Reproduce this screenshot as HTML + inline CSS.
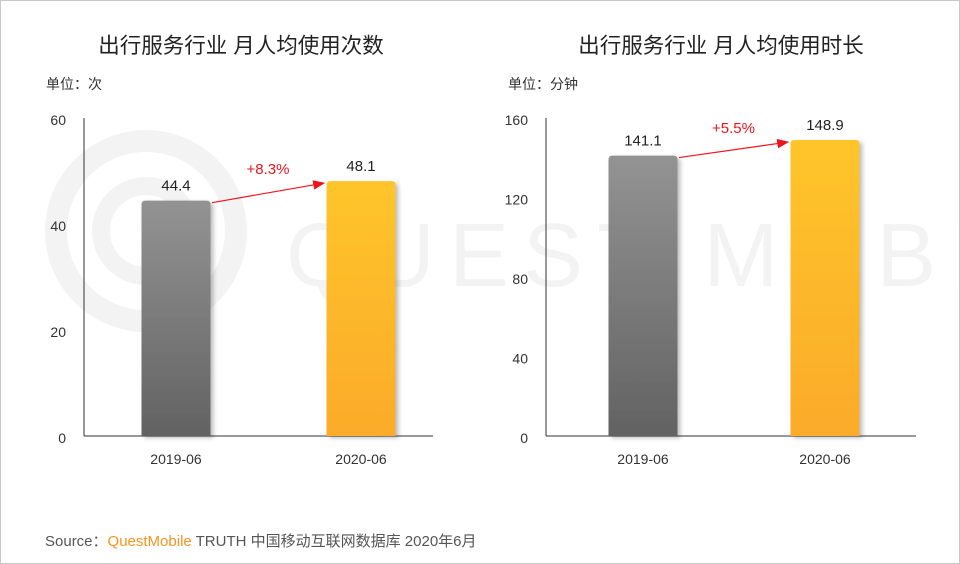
<!DOCTYPE html>
<html><head><meta charset="utf-8">
<style>
html,body{margin:0;padding:0;background:#fff;}
#wrap{position:relative;width:958px;height:562px;border:1px solid #c8c8c8;overflow:hidden;font-family:"Liberation Sans","Noto Sans CJK SC",sans-serif;}
svg text{font-family:"Liberation Sans","Noto Sans CJK SC",sans-serif;}
</style></head>
<body>
<div id="wrap">
<svg id="svg" width="958" height="562">
<defs>
<linearGradient id="gGray" x1="0" y1="0" x2="0" y2="1"><stop offset="0" stop-color="#939393"/><stop offset="1" stop-color="#626262"/></linearGradient>
<linearGradient id="gGold" x1="0" y1="0" x2="0" y2="1"><stop offset="0" stop-color="#fec52b"/><stop offset="1" stop-color="#fbab2c"/></linearGradient>
<filter id="sh" x="-20%" y="-10%" width="140%" height="120%"><feDropShadow dx="3" dy="2" stdDeviation="2" flood-color="#000" flood-opacity="0.25"/></filter>
<marker id="arr" markerWidth="10" markerHeight="8" refX="9" refY="4" orient="auto"><path d="M0,0 L10,4 L0,8 z" fill="#f0141e"/></marker>
</defs>
<g opacity="0.045">
<circle cx="145" cy="230" r="90" fill="none" stroke="#000" stroke-width="22"/>
<circle cx="145" cy="230" r="45" fill="none" stroke="#000" stroke-width="18"/>
<text x="285" y="285" font-size="90" fill="#000" letter-spacing="14">QUEST MOBILE</text>
</g>
<g id="charts"></g>
<text x="44" y="545" font-size="15" fill="#555">Source：<tspan fill="#f7931e">QuestMobile</tspan> TRUTH 中国移动互联网数据库 2020年6月</text>
</svg>
</div>
<script>
const categories = ["2019-06","2020-06"];
const leftValues = [44.4, 48.1];
const rightValues = [141.1, 148.9];
const leftTicks = [0,20,40,60];
const rightTicks = [0,40,80,120,160];
const leftGrowth = "+8.3%";
const rightGrowth = "+5.5%";
const titles = ["出行服务行业 月人均使用次数","出行服务行业 月人均使用时长"];
const units = ["单位：次","单位：分钟"];

const NS="http://www.w3.org/2000/svg";
const root=document.getElementById('charts');
function mk(tag,attrs,parent,txt){const e=document.createElementNS(NS,tag);for(const k in attrs)e.setAttribute(k,attrs[k]);if(txt!==undefined)e.textContent=txt;parent.appendChild(e);return e;}

function drawChart(cfg){
  const g=mk('g',{},root);
  
  
  const y0=435,y1=117,max=cfg.ticks[cfg.ticks.length-1];
  const y=v=>y0-(v/max)*(y0-y1);
  const t=mk('text',{x:cfg.titleX,y:52,'font-size':21.5,fill:'#222','text-anchor':'middle'},g,cfg.title);
  
  
  const u=mk('text',{x:cfg.axisX-38,y:88,'font-size':14,fill:'#333'},g,cfg.unit);
  
  
  const ax=mk('line',{x1:cfg.axisX,y1:y1,x2:cfg.axisX,y2:y0,stroke:'#333','stroke-width':1},g);
  
  
  const bx=mk('line',{x1:cfg.axisX,y1:y0,x2:cfg.axisEnd,y2:y0,stroke:'#333','stroke-width':1},g);
  
  
  cfg.ticks.forEach(v=>{
    const tt=mk('text',{x:cfg.axisX-18,y:y(v)+7,'font-size':14,fill:'#333','text-anchor':'end'},g,String(v));
    
    
  });
  const fills=['url(#gGray)','url(#gGold)'];
  const tops=[];
  cfg.values.forEach((v,i)=>{
    const cx=cfg.centers[i],w=69,top=y(v),r=4;
    const p=mk('path',{d:`M${cx-w/2},${y0} L${cx-w/2},${top+r} Q${cx-w/2},${top} ${cx-w/2+r},${top} L${cx+w/2-r},${top} Q${cx+w/2},${top} ${cx+w/2},${top+r} L${cx+w/2},${y0} Z`,fill:fills[i],filter:'url(#sh)'},g);
    
    
    tops.push(top);
    const vl=mk('text',{x:cx,y:top-10,'font-size':15,fill:'#222','text-anchor':'middle'},g,v.toFixed(1));
    
    
    const cl=mk('text',{x:cx,y:463,'font-size':14,fill:'#333','text-anchor':'middle'},g,categories[i]);
    
    
  });
  const xa=cfg.centers[0]+36,ya=tops[0]+2,xb=cfg.centers[1]-37,yb=tops[1]+2;
  const a=mk('line',{x1:xa,y1:ya,x2:xb,y2:yb,stroke:'#f0141e','stroke-width':1.2,'marker-end':'url(#arr)'},g);
  
  
  const gl=mk('text',{x:(xa+xb)/2,y:Math.min(ya,yb)-9,'font-size':15,fill:'#f0141e','text-anchor':'middle'},g,cfg.growth);
  
  
}
drawChart({name:'left-chart',title:titles[0],unit:units[0],titleX:240,axisX:83,axisEnd:432,centers:[175,360],values:leftValues,ticks:leftTicks,growth:leftGrowth});
drawChart({name:'right-chart',title:titles[1],unit:units[1],titleX:720,axisX:545,axisEnd:915,centers:[642,824],values:rightValues,ticks:rightTicks,growth:rightGrowth});
</script>
</body></html>
